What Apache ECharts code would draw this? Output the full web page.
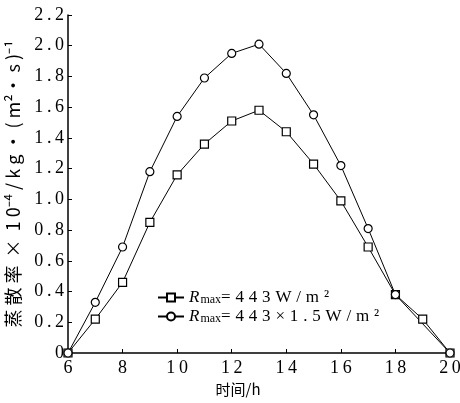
<!DOCTYPE html>
<html><head><meta charset="utf-8">
<script src="https://cdn.jsdelivr.net/npm/echarts@6/dist/echarts.min.js"></script>
<style>html,body{margin:0;padding:0;background:#fff}#c{width:460px;height:403px}</style>
</head><body><div id="c"></div>
<script>
var hours = [6,7,8,9,10,11,12,13,14,15,16,17,18,19,20];
var rateA = [0,0.22,0.46,0.85,1.16,1.36,1.51,1.58,1.44,1.23,0.99,0.69,0.38,0.22,0];
var rateB = [0,0.33,0.69,1.18,1.54,1.79,1.95,2.01,1.82,1.55,1.22,0.81,0.38,null,0];
var yTicks = ['0','0.2','0.4','0.6','0.8','1.0','1.2','1.4','1.6','1.8','2.0','2.2'];
var nameA = 'A', nameB = 'B';
var serif = 'Liberation Serif';
var ts = '\u2009';
function spaced(s, sp){ return s.split('').join(sp || ts); }
var chart = echarts.init(document.getElementById('c'));
function pairs(v){ return hours.map(function(h,i){return [h, v[i]];}); }
chart.setOption({
  animation:false,
  backgroundColor:'#fff',
  grid:{left:68,right:10,top:15,bottom:50,containLabel:false,outerBoundsMode:'none'},
  legend:{
    left:152, top:284, orient:'vertical', itemGap:2, itemWidth:26, itemHeight:10,
    data:[nameA,nameB],
    formatter:function(n){
      return n===nameA ? '{i|R}{s|max}{t|' + spaced('=443W/m²', '\u2009\u200a') + '}'
                       : '{i|R}{s|max}{t|' + spaced('=443×1.5W/m²', '\u2009\u200a') + '}';
    },
    textStyle:{
      color:'#000',
      rich:{
        i:{fontFamily:serif,fontStyle:'italic',fontSize:17,color:'#000'},
        s:{fontFamily:serif,fontSize:12,color:'#000',padding:[4,0,0,1]},
        t:{fontFamily:serif,fontSize:17,color:'#000'}
      }
    }
  },
  xAxis:{
    type:'value', min:6, max:20, interval:2,
    axisLine:{lineStyle:{color:'#000',width:1.5}},
    axisTick:{inside:true,length:4,lineStyle:{color:'#000'}},
    splitLine:{show:false},
    axisLabel:{color:'#000',fontFamily:serif,fontSize:18,margin:6,
      formatter:function(v){ return spaced(String(v)); }},
    name:'时间/h', nameLocation:'middle', nameGap:29,
    nameTextStyle:{color:'#000',fontFamily:'Noto Sans CJK SC',fontSize:15,padding:[0,42,0,0]}
  },
  yAxis:{
    type:'value', min:0, max:2.2, interval:0.2,
    axisLine:{show:true,lineStyle:{color:'#000',width:1.5}},
    axisTick:{show:true,inside:true,length:4,lineStyle:{color:'#000'}},
    splitLine:{show:false},
    axisLabel:{color:'#000',fontFamily:serif,fontSize:18,margin:4,
      formatter:function(v){ return spaced(yTicks[Math.round(v/0.2)]); }},
    name:'蒸 散 率  ×  1 0⁻⁴ / k g • ( m²• s )⁻¹', nameLocation:'middle', nameGap:46, nameRotate:90,
    nameTextStyle:{color:'#000',fontFamily:'Noto Sans CJK SC',fontSize:18}
  },
  series:[
    {name:nameA,type:'line',data:pairs(rateA),symbol:'rect',symbolSize:8,
     lineStyle:{color:'#000',width:1},itemStyle:{color:'#fff',borderColor:'#000',borderWidth:1.2}},
    {name:nameB,type:'line',data:pairs(rateB),symbol:'circle',symbolSize:8,connectNulls:true,
     lineStyle:{color:'#000',width:1},itemStyle:{color:'#fff',borderColor:'#000',borderWidth:1.2}}
  ]
});
</script></body></html>
